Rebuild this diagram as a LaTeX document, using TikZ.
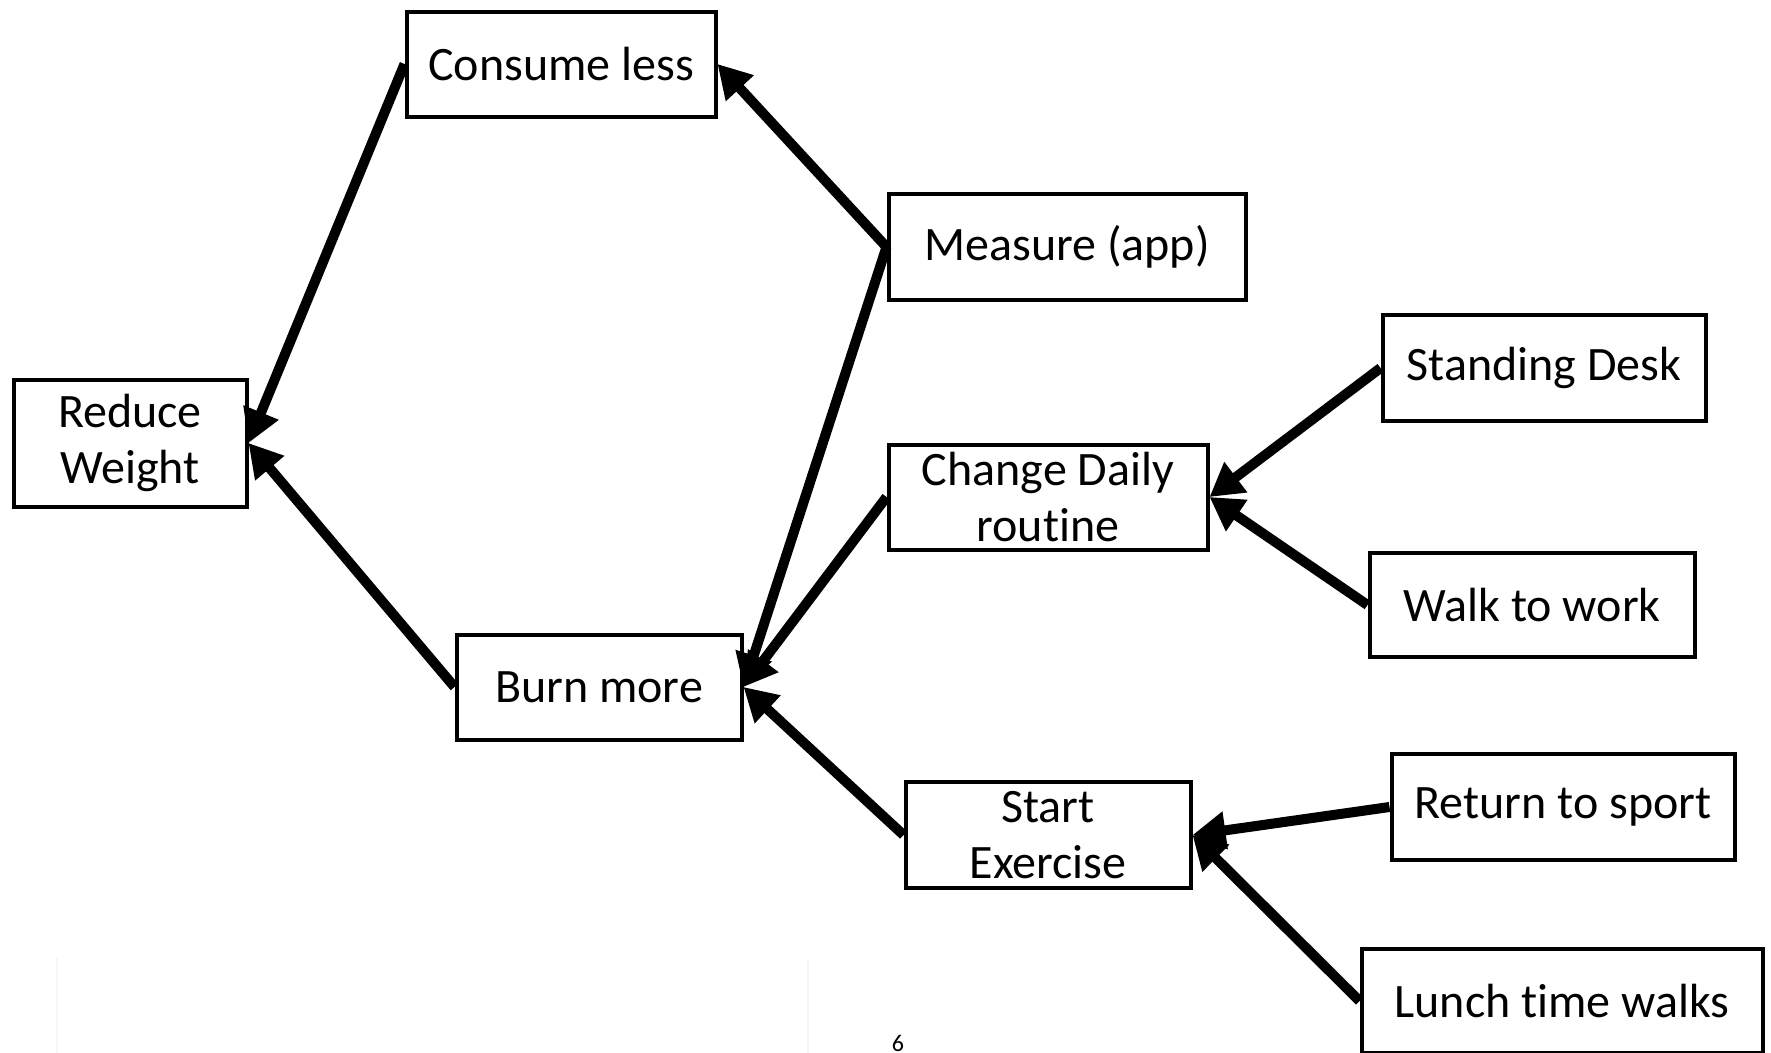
\documentclass[tikz,border=0pt]{standalone}
\usepackage{fontspec}
\setmainfont{Carlito}[Ligatures=NoCommon]
\usetikzlibrary{arrows.meta}
\begin{document}
\begin{tikzpicture}[x=1pt,y=-1pt,
  box/.style={draw, line width=4pt, inner sep=0pt, align=center,
    font=\fontsize{48}{56}\selectfont},
  arr/.style={line width=10pt, -{Triangle[length=33pt,width=36pt]}},
  rule/.style={draw=black!3, line width=1.5pt}]
\useasboundingbox (0,0) rectangle (1771,1052);
% goal and its two levers
\node[box, minimum width=233pt, minimum height=127pt] (reduce)  at (130,443)  {Reduce\\Weight};
\node[box, minimum width=309pt, minimum height=105pt] (consume) at (561,64)   {Consume less};
\node[box, minimum width=285pt, minimum height=105pt] (burn)    at (599,687)  {Burn more};
% actions
\node[box, minimum width=357pt, minimum height=106pt] (measure) at (1067,247) {Measure (app)};
\node[box, minimum width=319pt, minimum height=105pt] (daily)   at (1048,497) {Change Daily\\routine};
\node[box, minimum width=285pt, minimum height=106pt] (start)   at (1048,835) {Start\\Exercise};
% concrete steps
\node[box, minimum width=323pt, minimum height=106pt] (desk)    at (1544,368) {Standing Desk};
\node[box, minimum width=325pt, minimum height=104pt] (walk)    at (1532,605) {Walk to work};
\node[box, minimum width=343pt, minimum height=106pt] (sport)   at (1563,807) {Return to sport};
\node[box, minimum width=401pt, minimum height=104pt] (lunch)   at (1562,1001) {Lunch time walks};
% connectors
\draw[arr] (consume.west) -- (reduce.east);
\draw[arr] (burn.west)    -- (reduce.east);
\draw[arr] (measure.west) -- (consume.east);
\draw[arr] (measure.west) -- (burn.east);
\draw[arr] (daily.west)   -- (burn.east);
\draw[arr] (start.west)   -- (burn.east);
\draw[arr] (desk.west)    -- (daily.east);
\draw[arr] (walk.west)    -- (daily.east);
\draw[arr] (sport.west)   -- (start.east);
\draw[arr] (lunch.west)   -- (start.east);
% page footer
\coordinate (ruleL) at (57,958);
\coordinate (ruleR) at (808,958);
\draw[rule] (ruleL) -- ++(0,100);
\draw[rule] (ruleR) -- ++(0,100);
\node[font=\fontsize{24}{28}\selectfont, anchor=north, inner sep=0pt] (page) at (898,1035) {6};
\end{tikzpicture}
\end{document}
